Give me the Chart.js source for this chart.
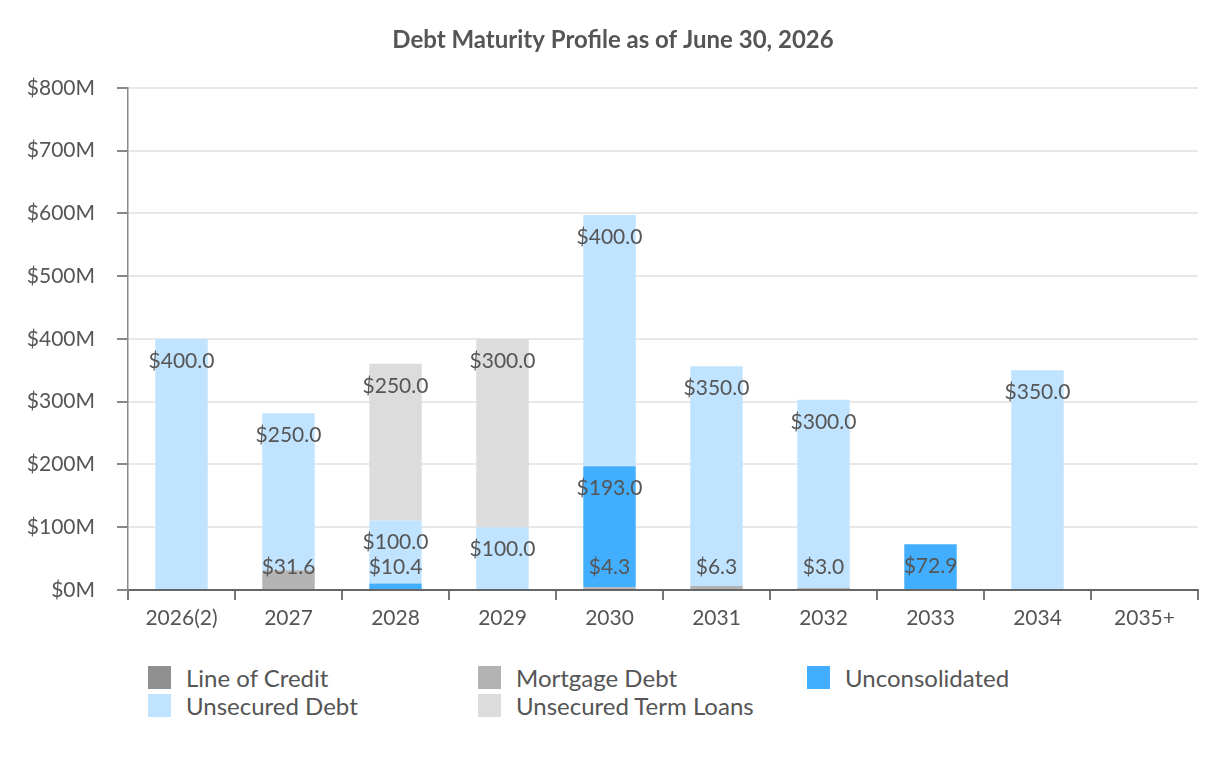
<!DOCTYPE html>
<html>
<head>
<meta charset="utf-8">
<script src="https://cdn.jsdelivr.net/npm/chart.js@4/dist/chart.umd.min.js"></script>
<style>
  html, body { margin:0; padding:0; background:#fff; }
  #wrap { position:relative; width:1226px; height:760px; font-family: Lato, "Open Sans", sans-serif; }
  #c { position:absolute; left:0; top:0; }
  #legend { position:absolute; left:0; top:665px; width:1226px; }
  .li { position:absolute; height:26px; line-height:26px; font-size:24px; color:#555; white-space:nowrap; }
  .li span.box { position:absolute; left:0; top:1px; width:23px; height:23px; }
  .li span.t { position:absolute; left:38px; top:0; }
</style>
</head>
<body>
<div id="wrap">
  <canvas id="c" width="1226" height="650"></canvas>
  <div id="legend"></div>
</div>
<script>
const categories = ["2026(2)", "2027", "2028", "2029", "2030", "2031", "2032", "2033", "2034", "2035+"];
const lineOfCredit       = [0, 0, 0, 0, 0, 0, 0, 0, 0, 0];
const mortgageDebt       = [0, 31.6, 0, 0, 4.3, 6.3, 3.0, 0, 0, 0];
const unconsolidated     = [0, 0, 10.4, 0, 193.0, 0, 0, 72.9, 0, 0];
const unsecuredDebt      = [400.0, 250.0, 100.0, 100.0, 400.0, 350.0, 300.0, 0, 350.0, 0];
const unsecuredTermLoans = [0, 0, 250.0, 300.0, 0, 0, 0, 0, 0, 0];
const seriesNames  = ["Line of Credit", "Mortgage Debt", "Unconsolidated", "Unsecured Debt", "Unsecured Term Loans"];
const seriesColors = ["#8f8f8f", "#b3b3b3", "#42aeff", "#c0e3ff", "#dcdcdc"];
const yTicks = [0, 100, 200, 300, 400, 500, 600, 700, 800];
const chartTitle = "Debt Maturity Profile as of June 30, 2026";

const seriesData = [lineOfCredit, mortgageDebt, unconsolidated, unsecuredDebt, unsecuredTermLoans];

const TEXT = "#555555";
const FONT = "Lato, 'Open Sans', sans-serif";

const labelPlugin = {
  id: 'segLabels',
  afterDatasetsDraw(chart) {
    const ctx = chart.ctx;
    const bottom = chart.chartArea.bottom;
    ctx.save();
    ctx.font = "21px " + FONT;
    ctx.fillStyle = TEXT;
    ctx.textAlign = "center";
    ctx.textBaseline = "middle";
    chart.data.datasets.forEach((ds, di) => {
      const meta = chart.getDatasetMeta(di);
      meta.data.forEach((el, i) => {
        const v = ds.data[i];
        if (!v) return;
        const y = Math.min(el.y + 22, bottom - 23);
        ctx.fillText("$" + v.toFixed(1), el.x, y);
      });
    });
    ctx.restore();
  }
};

const ctx = document.getElementById('c').getContext('2d');
new Chart(ctx, {
  type: 'bar',
  data: {
    labels: categories,
    datasets: seriesNames.map((n, i) => ({
      label: n,
      data: seriesData[i],
      backgroundColor: seriesColors[i],
      borderWidth: 0,
      categoryPercentage: 1.0,
      barPercentage: 0.49
    }))
  },
  options: {
    responsive: false,
    animation: false,
    layout: { padding: { left: 28, right: 28, top: 0, bottom: 0 } },
    plugins: {
      legend: { display: false },
      tooltip: { enabled: false },
      title: {
        display: true,
        text: chartTitle,
        color: TEXT,
        font: { family: FONT, size: 24, weight: 'bold' },
        padding: { top: 26, bottom: 33 }
      }
    },
    scales: {
      x: {
        stacked: true,
        grid: { display: true, drawOnChartArea: false, drawTicks: true, tickLength: 10, color: '#777', tickColor: '#777', lineWidth: 2, offset: true },
        border: { display: true, color: '#666', width: 2 },
        ticks: { color: TEXT, font: { family: FONT, size: 21 }, padding: 6, maxRotation: 0 },
        afterFit(scale) { scale.height = 60; }
      },
      y: {
        stacked: true,
        min: 0, max: 800,
        afterBuildTicks(scale) { scale.ticks = yTicks.map(v => ({ value: v })); },
        grid: { color: '#e8e8e8', lineWidth: 2, tickColor: '#888', tickLength: 11, drawTicks: true },
        border: { display: true, color: '#8a8a8a', width: 1.5 },
        ticks: { color: TEXT, font: { family: FONT, size: 21 }, padding: 22, callback: v => '$' + v + 'M' },
        afterFit(scale) { scale.width = 100; }
      }
    }
  },
  plugins: [labelPlugin]
});

// HTML legend (3 columns)
const legend = document.getElementById('legend');
const colX = [148, 478, 807];
seriesNames.forEach((n, i) => {
  const d = document.createElement('div');
  d.className = 'li';
  d.style.left = colX[i % 3] + 'px';
  d.style.top = (Math.floor(i / 3) * 28) + 'px';
  d.innerHTML = '<span class="box" style="background:' + seriesColors[i] + '"></span><span class="t"></span>';
  d.querySelector('.t').textContent = n;
  legend.appendChild(d);
});
</script>
</body>
</html>
